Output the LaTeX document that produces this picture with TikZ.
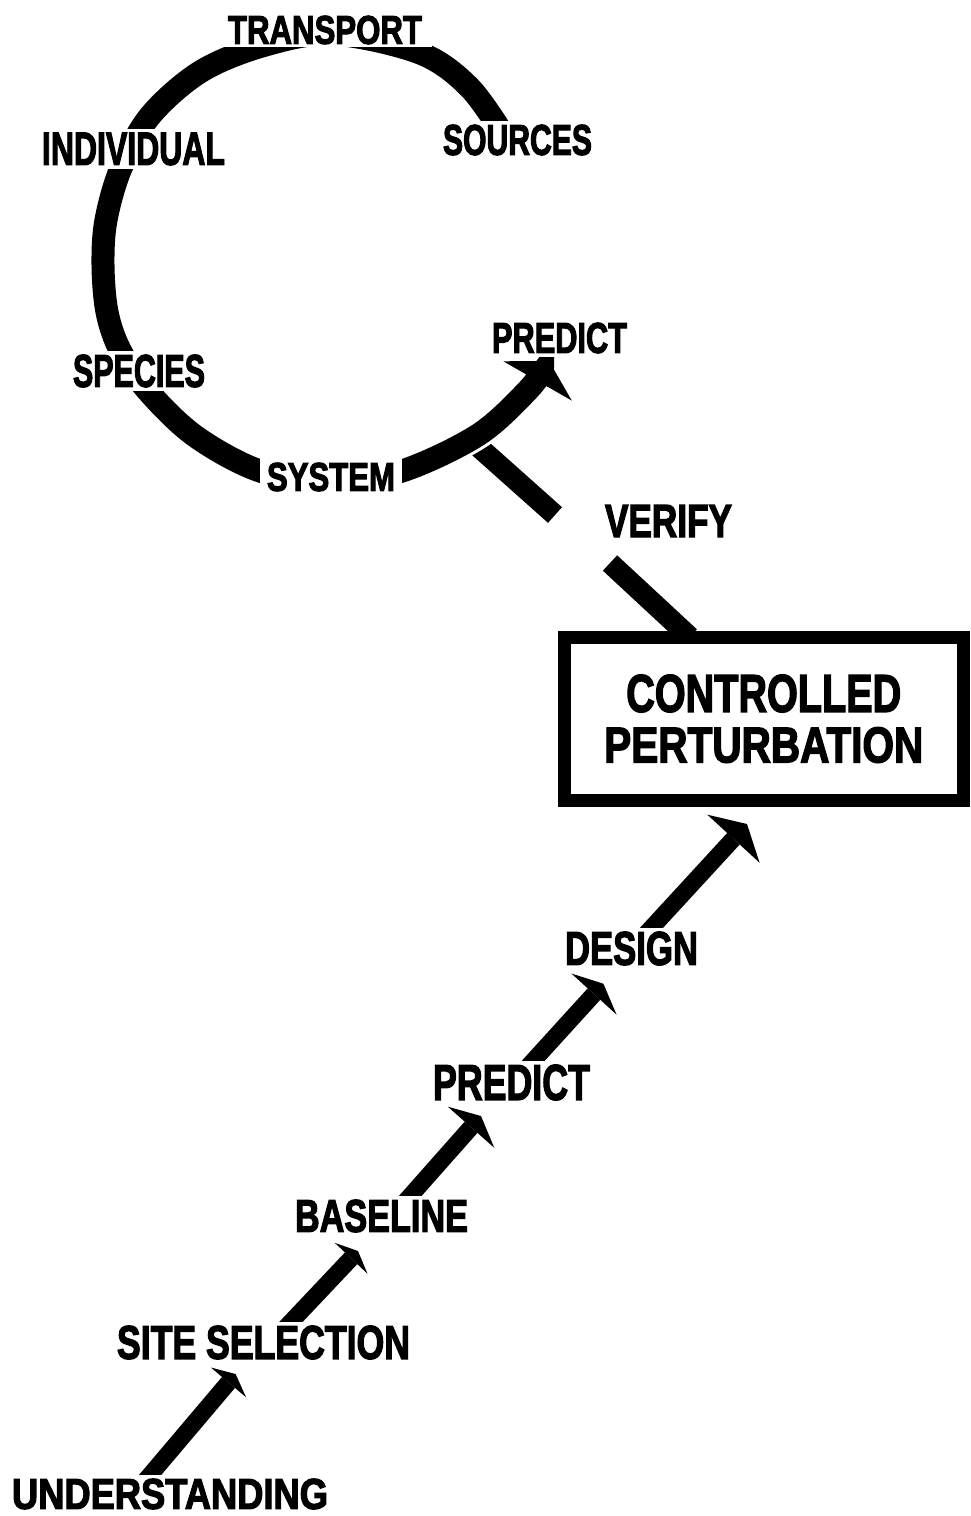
\documentclass[tikz,border=0pt]{standalone}
\usepackage{fontspec}
\usepackage{graphicx}
\usetikzlibrary{arrows.meta,backgrounds}
\newfontfamily\lblfont{Liberation Sans}[BoldFeatures={FakeBold=3}]
% a label of given width and cap height
\newcommand\lbl[3]{\resizebox{#1pt}{#2pt}{\lblfont\bfseries #3}}

\begin{document}
\begin{tikzpicture}[x=1pt,y=-1pt,
  tag/.style={fill=white,inner sep=4pt,outer sep=0pt,text=black},
  loopline/.style={line width=23pt},
  halo/.style={preaction={draw=white,line width=29pt}},
  stepline/.style={line width=17pt},
  stub/.style={line width=21pt},
  boxframe/.style={draw,fill=white,line width=13pt,inner sep=0pt,outer sep=0pt,
    minimum width=399.5pt,minimum height=163.5pt,align=center,
    font=\fontsize{10}{10}\selectfont}]
\useasboundingbox (0,0) rectangle (970,1516);

% ---- labels of the study cycle
\node[tag] (sources) at (517.5,140) {\lbl{149}{30}{SOURCES}};
\node[tag,inner xsep=10pt,inner ysep=3pt] (transport) at (325,30) {\lbl{194}{28}{TRANSPORT}};
\node[tag] (individual) at (133.5,149) {\lbl{183}{32}{INDIVIDUAL}};
\node[tag] (species) at (139,371) {\lbl{132}{32}{SPECIES}};
\node[tag,inner xsep=7pt] (system) at (331,477) {\lbl{128}{28}{SYSTEM}};
\node[tag] (predictA) at (559.5,338) {\lbl{135}{30}{PREDICT}};
\node[tag] (verify) at (668.5,521) {\lbl{127}{32}{VERIFY}};

% ---- the experiment box
\node[boxframe] (box) at (763.75,718.75)
  {\lbl{275}{37}{CONTROLLED}\\[14pt]\lbl{319}{35}{PERTURBATION}};

% ---- the staircase of steps
\node[tag] (design) at (631.5,948.5) {\lbl{133}{33}{DESIGN}};
\node[tag] (predictB) at (511.5,1082.5) {\lbl{157}{35}{PREDICT}};
\node[tag] (baseline) at (381.5,1216) {\lbl{173}{32}{BASELINE}};
\node[tag] (site) at (263.5,1342.5) {\lbl{293}{33}{SITE SELECTION}};
\node[tag] (under) at (170,1494) {\lbl{316}{30}{UNDERSTANDING}};

% ---- free ends of the connectors
\coordinate (vA) at (472,441);
\coordinate (vB) at (555,515);
\coordinate (vC) at (610,563);
\coordinate (h1) at (235.6,1374);
\coordinate (h2) at (358,1251);
\coordinate (h3) at (481,1116);
\coordinate (h4) at (603.4,983.7);
\coordinate (h5) at (747,824);

\begin{scope}[on background layer]
  \fill[white] (0,0) rectangle (970,1516);
  % verify link between the box and the cycle
  \draw[stub] (vA) -- (vB);
  \draw[stub] (vC) -- ([xshift=-74pt]box.north);
  % the cycle, sources round to predict
  \draw[loopline,halo,-{Triangle[length=23pt,width=79pt,line width=0pt]}]
    plot[smooth,tension=0.55] coordinates {
      (508,142) (470,88) (420,53) (332,34) (262,46) (200,72) (150,116)
      (121,168) (106,220) (103,265) (107,312) (120,350) (147,390)
      (195,436) (260,471) (332,482) (402,471) (478,435) (528,390) (549,361)};
  % steps up to the perturbation
  \draw[stepline,-{Triangle[length=11pt,width=46pt,line width=0pt]}]
    ([xshift=-36pt]under.center) -- (h1);
  \draw[stepline,-{Triangle[length=10pt,width=45pt,line width=0pt]}]
    ([xshift=8pt]site.center) -- (h2);
  \draw[stepline,-{Triangle[length=15pt,width=62pt,line width=0pt]}]
    ([xshift=11pt]baseline.center) -- (h3);
  \draw[stepline,-{Triangle[length=14pt,width=61pt,line width=0pt]}]
    ([xshift=2pt]predictB.center) -- (h4);
  \draw[stepline,-{Triangle[length=20pt,width=71pt,line width=0pt]}]
    ([xshift=1pt]design.center) -- (h5);
\end{scope}
\end{tikzpicture}
\end{document}
